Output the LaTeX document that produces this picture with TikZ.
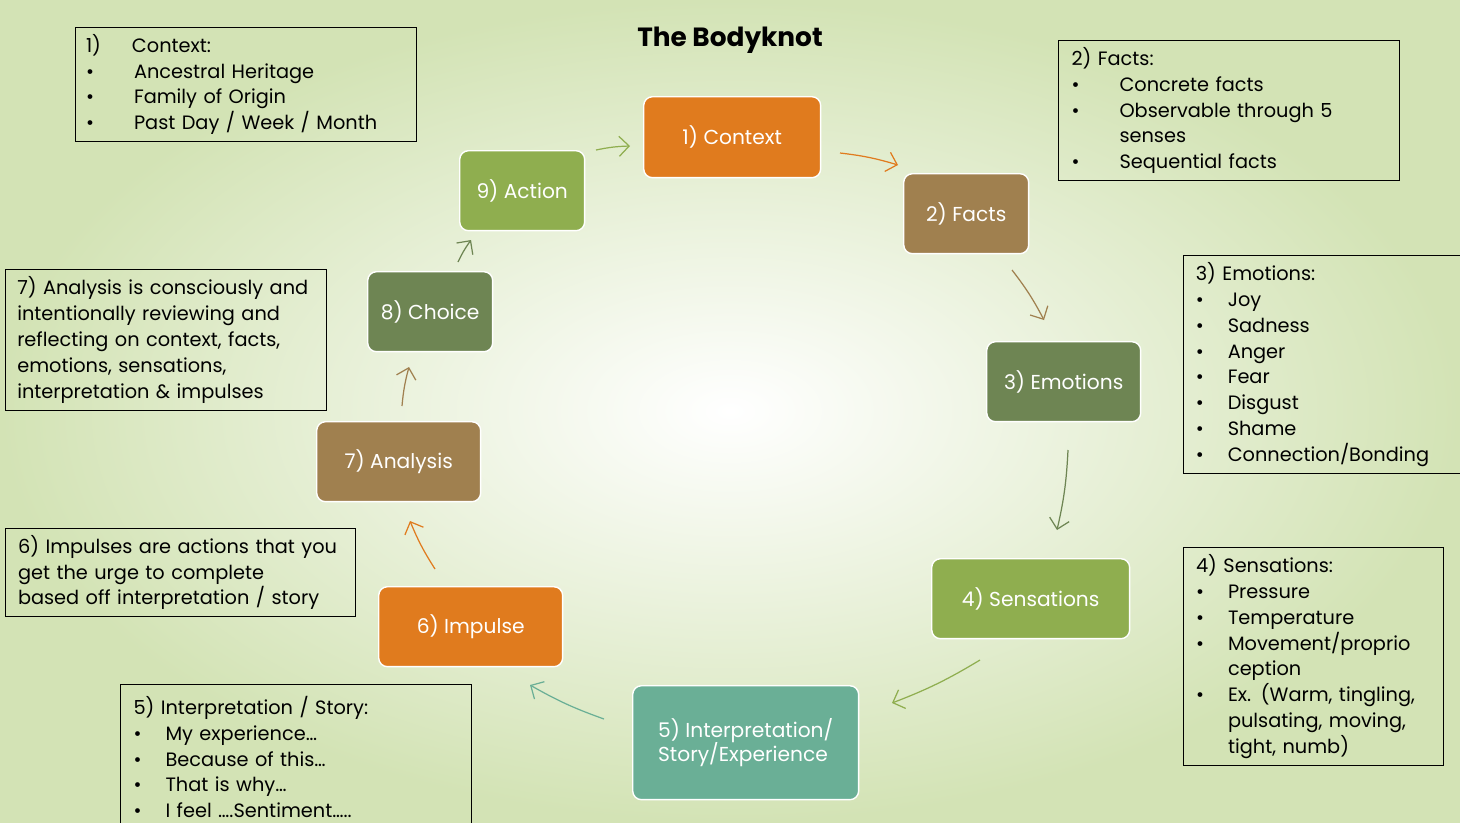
\documentclass[tikz,border=0pt]{standalone}
\usepackage{fontspec}
\setmainfont{Poppins}
\usetikzlibrary{arrows.meta}
\definecolor{bgGreen}{HTML}{D3E3B5}
\definecolor{cOrange}{HTML}{E07B1E}
\definecolor{cBrown}{HTML}{A0804F}
\definecolor{cDark}{HTML}{6E8553}
\definecolor{cLight}{HTML}{8FAE4F}
\definecolor{cTeal}{HTML}{6AAF96}
\newcommand{\bul}[2][0.76cm]{\makebox[0.2cm][l]{\textbullet}\makebox[#1][l]{}#2}
\newcommand{\ind}[1][0.96cm]{\hspace*{#1}}
\tikzset{
  knot/.style={draw=white, line width=0.8pt, rounded corners=5pt, text=white,
    font=\fontsize{11.5}{14}\selectfont, align=center, anchor=north west},
  note/.style={draw=black, line width=0.6pt, anchor=north west, align=left, inner sep=0pt,
    font=\fontsize{11}{14.7}\selectfont},
  flow/.style={-{Straight Barb[length=2mm]}, line width=0.7pt}
}
\begin{document}
\begin{tikzpicture}[x=0.02cm, y=-0.02cm]
    % background
    \shade[inner color=white, outer color=bgGreen] (0,0) rectangle (1460,822);
    \useasboundingbox (0,0) rectangle (1460,822);

    % title
    \node[font=\fontsize{15}{17}\bfseries\selectfont] (title) at (730,40) {The Bodyknot};

    % steps of the knot
    \node[knot, fill=cOrange, minimum width=3.54cm, minimum height=1.62cm] (context) at (643,96) {1) Context};
    \node[knot, fill=cBrown, minimum width=2.5cm, minimum height=1.6cm] (facts) at (903,173) {2) Facts};
    \node[knot, fill=cDark, minimum width=3.08cm, minimum height=1.6cm] (emotions) at (986,341) {3) Emotions};
    \node[knot, fill=cLight, minimum width=3.96cm, minimum height=1.6cm] (sensations) at (931,558) {4) Sensations};
    \node[knot, fill=cTeal, minimum width=4.52cm, minimum height=2.28cm, align=left] (interp) at (632,685) {5) Interpretation/\\Story/Experience};
    \node[knot, fill=cOrange, minimum width=3.68cm, minimum height=1.6cm] (impulse) at (378,586) {6) Impulse};
    \node[knot, fill=cBrown, minimum width=3.28cm, minimum height=1.6cm] (analysis) at (316,421) {7) Analysis};
    \node[knot, fill=cDark, minimum width=2.5cm, minimum height=1.6cm] (choice) at (367,271) {8) Choice};
    \node[knot, fill=cLight, minimum width=2.5cm, minimum height=1.6cm] (action) at (459,150) {9) Action};

    % arrow ends
    \coordinate (a1s) at (840,153);  \coordinate (a1e) at (898,165);
    \coordinate (a2s) at (1012,270); \coordinate (a2e) at (1044,320);
    \coordinate (a3s) at (1068,450); \coordinate (a3e) at (1057,530);
    \coordinate (a4s) at (980,660);  \coordinate (a4e) at (892,703);
    \coordinate (a5s) at (604,719);  \coordinate (a5e) at (530,685);
    \coordinate (a6s) at (435,569);  \coordinate (a6e) at (410,521);
    \coordinate (a7s) at (402,406);  \coordinate (a7e) at (409,367);
    \coordinate (a8s) at (458,262);  \coordinate (a8e) at (471,240);
    \coordinate (a9s) at (596,150);  \coordinate (a9e) at (630,146);

    \draw[flow, cOrange] (a1s) to[bend left=5] (a1e);
    \draw[flow, cBrown] (a2s) to[bend left=5] (a2e);
    \draw[flow, cDark] (a3s) to[bend left=5] (a3e);
    \draw[flow, cLight] (a4s) to[bend left=5] (a4e);
    \draw[flow, cTeal] (a5s) to[bend left=5] (a5e);
    \draw[flow, cOrange] (a6s) to[bend left=5] (a6e);
    \draw[flow, cBrown] (a7s) to[bend left=5] (a7e);
    \draw[flow, cDark] (a8s) to[bend left=5] (a8e);
    \draw[flow, cLight] (a9s) to[bend left=5] (a9e);

    % notes
    \node[note, minimum width=6.82cm, minimum height=2.28cm, text width=6.4cm, inner xsep=0.2cm, inner ysep=0.1cm] (noteContext) at (75,27)
      {1)\ind[0.62cm]Context:\\ \bul{Ancestral Heritage}\\ \bul{Family of Origin}\\ \bul{Past Day / Week / Month}};
    \node[note, minimum width=6.82cm, minimum height=2.8cm, text width=6.3cm, inner xsep=0.22cm, inner ysep=0.1cm] (noteFacts) at (1058,40)
      {2) Facts:\\ \bul{Concrete facts}\\ \bul{Observable through 5}\\ \ind senses\\ \bul{Sequential facts}};
    \node[note, minimum width=5.54cm, minimum height=4.36cm, text width=5.05cm, inner xsep=0.22cm, inner ysep=0.1cm] (noteEmotions) at (1183,255)
      {3) Emotions:\\ \bul[0.44cm]{Joy}\\ \bul[0.44cm]{Sadness}\\ \bul[0.44cm]{Anger}\\ \bul[0.44cm]{Fear}\\ \bul[0.44cm]{Disgust}\\ \bul[0.44cm]{Shame}\\ \bul[0.44cm]{Connection/Bonding}};
    \node[note, minimum width=5.2cm, minimum height=4.36cm, text width=4.7cm, inner xsep=0.22cm, inner ysep=0.1cm] (noteSensations) at (1183,547)
      {4) Sensations:\\ \bul[0.44cm]{Pressure}\\ \bul[0.44cm]{Temperature}\\ \bul[0.44cm]{Movement/proprio}\\ \ind[0.64cm]ception\\ \bul[0.44cm]{Ex. (Warm, tingling,}\\ \ind[0.64cm]pulsating, moving,\\ \ind[0.64cm]tight, numb)};
    \node[note, minimum width=7.02cm, minimum height=2.9cm, text width=6.5cm, inner xsep=0.22cm, inner ysep=0.1cm] (noteInterp) at (120,684)
      {5) Interpretation / Story:\\ \bul[0.44cm]{My experience\ldots}\\ \bul[0.44cm]{Because of this\ldots}\\ \bul[0.44cm]{That is why\ldots}\\ \bul[0.44cm]{I feel \ldots.Sentiment\ldots..}};
    \node[note, minimum width=7cm, minimum height=1.76cm, text width=6.5cm, inner xsep=0.22cm, inner ysep=0.1cm] (noteImpulse) at (5,528)
      {6) Impulses are actions that you\\get the urge to complete\\based off interpretation / story};
    \node[note, minimum width=6.42cm, minimum height=2.82cm, text width=5.95cm, inner xsep=0.22cm, inner ysep=0.1cm] (noteAnalysis) at (5,269)
      {7) Analysis is consciously and\\intentionally reviewing and\\reflecting on context, facts,\\emotions, sensations,\\interpretation \& impulses};
\end{tikzpicture}
\end{document}
